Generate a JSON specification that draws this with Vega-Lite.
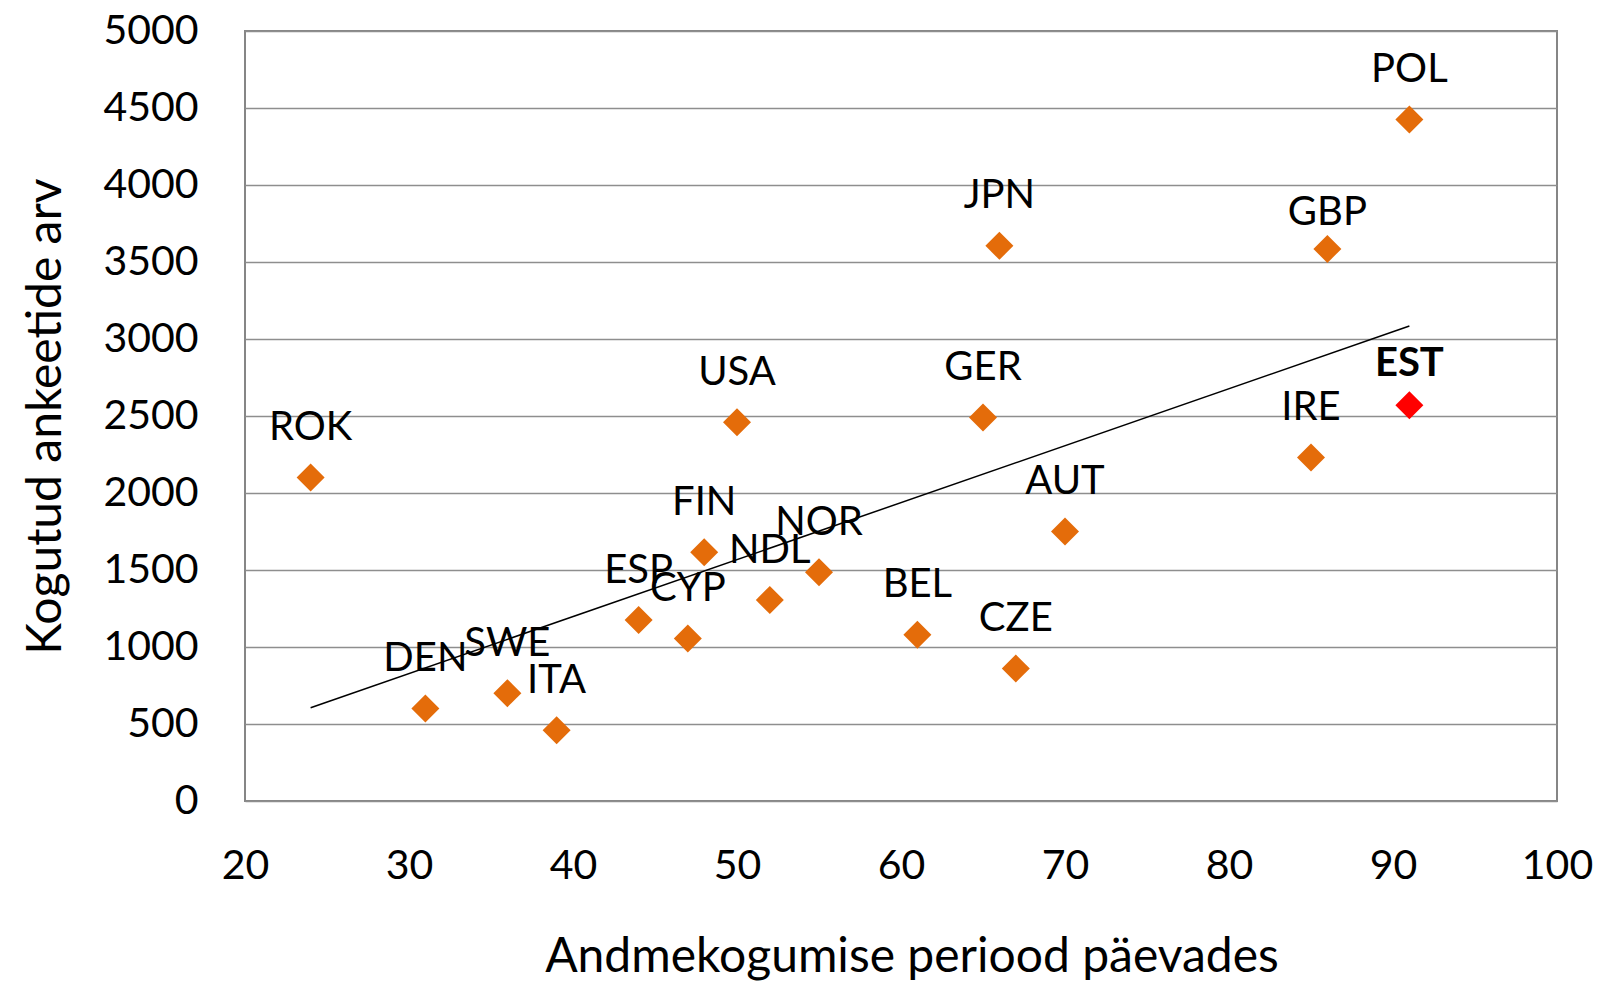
{
  "$schema": "https://vega.github.io/schema/vega-lite/v6.json",
  "width": 1312,
  "height": 770,
  "autosize": {"type": "none"},
  "padding": {"left": 245, "top": 31, "right": 42, "bottom": 181},
  "background": "white",
  "datasets": {
    "points": [
      {"country": "ROK", "days": 24, "count": 2100},
      {"country": "DEN", "days": 31, "count": 600},
      {"country": "SWE", "days": 36, "count": 700},
      {"country": "ITA", "days": 39, "count": 460},
      {"country": "ESP", "days": 44, "count": 1175},
      {"country": "CYP", "days": 47, "count": 1055},
      {"country": "FIN", "days": 48, "count": 1615},
      {"country": "USA", "days": 50, "count": 2460},
      {"country": "NDL", "days": 52, "count": 1305},
      {"country": "NOR", "days": 55, "count": 1485},
      {"country": "BEL", "days": 61, "count": 1080},
      {"country": "GER", "days": 65, "count": 2490},
      {"country": "JPN", "days": 66, "count": 3605},
      {"country": "CZE", "days": 67, "count": 860},
      {"country": "AUT", "days": 70, "count": 1750},
      {"country": "IRE", "days": 85, "count": 2230},
      {"country": "GBP", "days": 86, "count": 3585},
      {"country": "POL", "days": 91, "count": 4425},
      {"country": "EST", "days": 91, "count": 2570}
    ],
    "trend": [
      {"days": 24, "count": 606},
      {"days": 91, "count": 3084}
    ]
  },
  "config": {
    "font": "Lato",
    "view": {"stroke": "#868686", "strokeWidth": 2},
    "axis": {
      "labelColor": "black",
      "titleColor": "black",
      "labelFont": "Lato",
      "titleFont": "Lato",
      "titleFontWeight": "normal",
      "labelFontSize": 41,
      "titleFontSize": 48,
      "domain": false,
      "ticks": false,
      "tickSize": 0,
      "labelFlush": false,
      "labelOverlap": false
    }
  },
  "layer": [
    {
      "data": {"name": "trend"},
      "mark": {"type": "line", "color": "black", "strokeWidth": 1.5},
      "encoding": {
        "x": {
          "field": "days",
          "type": "quantitative",
          "scale": {"domain": [20, 100], "nice": false, "zero": false},
          "axis": {
            "values": [20, 30, 40, 50, 60, 70, 80, 90, 100],
            "title": "Andmekogumise periood päevades",
            "grid": false,
            "labelPadding": 77,
            "labelBaseline": "alphabetic",
            "titleX": 666.5,
            "titleY": 170.7,
            "titleBaseline": "alphabetic",
            "titleAlign": "center"
          }
        },
        "y": {
          "field": "count",
          "type": "quantitative",
          "scale": {"domain": [0, 5000], "nice": false},
          "axis": {
            "values": [0, 500, 1000, 1500, 2000, 2500, 3000, 3500, 4000, 4500, 5000],
            "format": "d",
            "title": "Kogutud ankeetide arv",
            "grid": true,
            "gridColor": "#8e8e8e",
            "gridWidth": 1.5,
            "labelPadding": 47,
            "titleAngle": 270,
            "titleX": -185,
            "titleY": 385,
            "titleBaseline": "alphabetic",
            "titleAlign": "center"
          }
        }
      }
    },
    {
      "data": {"name": "points"},
      "transform": [{"filter": "datum.country !== 'EST'"}],
      "mark": {"type": "point", "shape": "diamond", "filled": true, "size": 784, "color": "#E46C0A", "opacity": 1, "strokeWidth": 0},
      "encoding": {
        "x": {"field": "days", "type": "quantitative"},
        "y": {"field": "count", "type": "quantitative"}
      }
    },
    {
      "data": {"name": "points"},
      "transform": [{"filter": "datum.country === 'EST'"}],
      "mark": {"type": "point", "shape": "diamond", "filled": true, "size": 784, "color": "#FF0000", "opacity": 1, "strokeWidth": 0},
      "encoding": {
        "x": {"field": "days", "type": "quantitative"},
        "y": {"field": "count", "type": "quantitative"}
      }
    },
    {
      "data": {"name": "points"},
      "transform": [{"filter": "datum.country !== 'EST' && datum.country !== 'GBP'"}],
      "mark": {"type": "text", "font": "Lato", "fontSize": 40, "color": "black", "align": "center", "baseline": "alphabetic", "dy": -37.5},
      "encoding": {
        "x": {"field": "days", "type": "quantitative"},
        "y": {"field": "count", "type": "quantitative"},
        "text": {"field": "country"}
      }
    },
    {
      "data": {"name": "points"},
      "transform": [{"filter": "datum.country === 'GBP'"}],
      "mark": {"type": "text", "font": "Lato", "fontSize": 40, "color": "black", "align": "center", "baseline": "alphabetic", "dy": -24},
      "encoding": {
        "x": {"field": "days", "type": "quantitative"},
        "y": {"field": "count", "type": "quantitative"},
        "text": {"field": "country"}
      }
    },
    {
      "data": {"name": "points"},
      "transform": [{"filter": "datum.country === 'EST'"}],
      "mark": {"type": "text", "font": "Lato", "fontSize": 40, "fontWeight": "bold", "color": "black", "align": "center", "baseline": "alphabetic", "dy": -29},
      "encoding": {
        "x": {"field": "days", "type": "quantitative"},
        "y": {"field": "count", "type": "quantitative"},
        "text": {"field": "country"}
      }
    }
  ]
}
